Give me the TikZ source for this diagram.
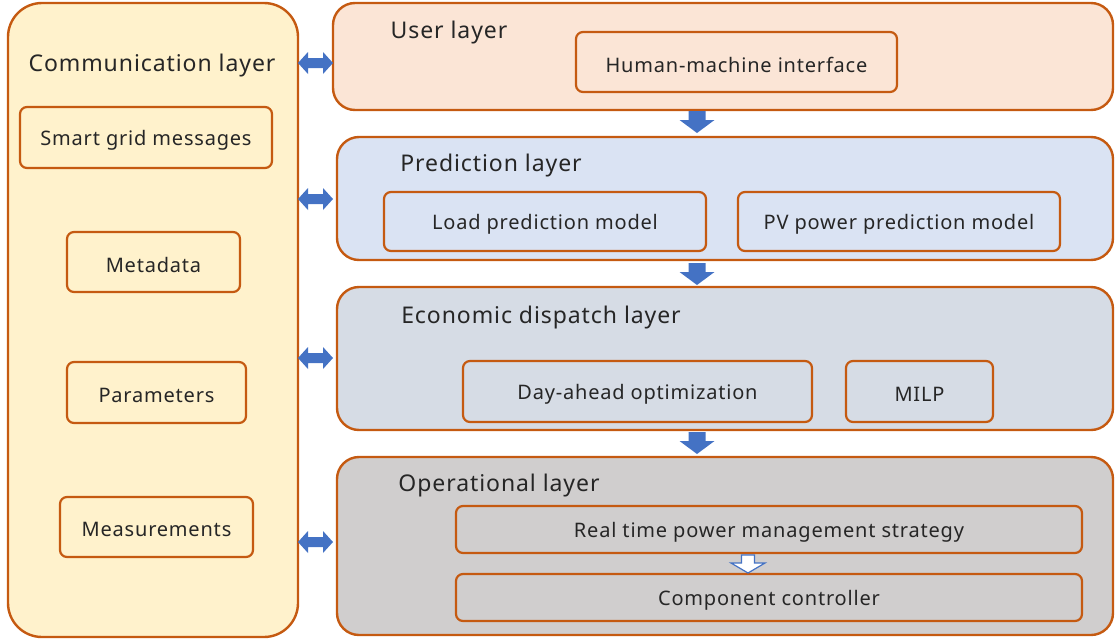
\documentclass[tikz,border=0pt]{standalone}
\usepackage{fontspec}
\setmainfont[LetterSpace=4]{Noto Sans}
\begin{document}
\begin{tikzpicture}[x=1pt,y=-1pt]
\definecolor{ob}{RGB}{197,90,17}
\definecolor{commf}{RGB}{255,242,204}
\definecolor{userf}{RGB}{251,229,214}
\definecolor{predf}{RGB}{218,227,243}
\definecolor{ecof}{RGB}{214,220,229}
\definecolor{opf}{RGB}{208,206,206}
\definecolor{arr}{RGB}{68,114,196}
\definecolor{txt}{RGB}{38,38,38}
\tikzset{
  layer/.style={draw=ob, line width=2.4pt, rounded corners=22pt},
  sbox/.style={draw=ob, line width=2.2pt, rounded corners=7pt, text=txt, font=\fontsize{20}{24}\selectfont, inner sep=0pt, every node/.append style={yshift=-2.5pt}},
  ttl/.style={text=txt, font=\fontsize{23}{27}\selectfont, inner sep=0pt, yshift=-2.5pt},
  dbl/.pic={\fill[arr] (-17.5,0) -- (-7.5,-11) -- (-7.5,-5) -- (7.5,-5) -- (7.5,-11) -- (17.5,0) -- (7.5,11) -- (7.5,5) -- (-7.5,5) -- (-7.5,11) -- cycle;},
  dn/.pic={\fill[arr] (-8.5,0) -- (8.5,0) -- (8.5,9) -- (17.5,9) -- (0,22) -- (-17.5,9) -- (-8.5,9) -- cycle;},
}
\useasboundingbox (0,0) rectangle (1117,643);
% communication layer
\draw[layer, fill=commf, rounded corners=34pt] (8,3) rectangle (298,637);
\node[ttl] (comm) at (152,63) {Communication layer};
\draw[sbox] (20,107) rectangle node (sgm) {Smart grid messages} (272,168);
\draw[sbox] (67,232) rectangle node (meta) {Metadata} (240,292);
\draw[sbox] (67,362) rectangle node (par) {Parameters} (246,423);
\draw[sbox] (60,497) rectangle node (meas) {Measurements} (253,557);
% user layer
\draw[layer, fill=userf] (333,3) rectangle (1113,110);
\node[ttl] (user) at (449,30) {User layer};
\draw[sbox] (576,32) rectangle node (hmi) {Human-machine interface} (897,92);
% prediction layer
\draw[layer, fill=predf] (337,137) rectangle (1113,260);
\node[ttl] (pred) at (491,163) {Prediction layer};
\draw[sbox] (384,192) rectangle node (lpm) {Load prediction model} (706,251);
\draw[sbox] (738,192) rectangle node (pvm) {PV power prediction model} (1060,251);
% economic dispatch
\draw[layer, fill=ecof] (337,287) rectangle (1113,430);
\node[ttl] (eco) at (541,315) {Economic dispatch layer};
\draw[sbox] (463,361) rectangle node (dao) {Day-ahead optimization} (812,422);
\draw[sbox] (846,361) rectangle node (milp) {MILP} (993,422);
% operational
\draw[layer, fill=opf] (337,457) rectangle (1113,635);
\node[ttl] (op) at (499,483) {Operational layer};
\draw[sbox] (456,506) rectangle node (rt) {Real time power management strategy} (1082,553);
\draw[sbox] (456,574) rectangle node (cc) {Component controller} (1082,621);
% hollow arrow
\draw[arr, line width=1.2pt, fill=white] (741.5,555) -- (754.5,555) -- (754.5,563) -- (765,563) -- (748,573) -- (731,563) -- (741.5,563) -- cycle;
% down arrows
\pic at (697,111) {dn};
\pic at (697,263) {dn};
\pic at (697,432) {dn};
% double arrows
\pic at (315.5,63) {dbl};
\pic at (315.5,199) {dbl};
\pic at (315.5,358) {dbl};
\pic at (315.5,542) {dbl};
\end{tikzpicture}
\end{document}
